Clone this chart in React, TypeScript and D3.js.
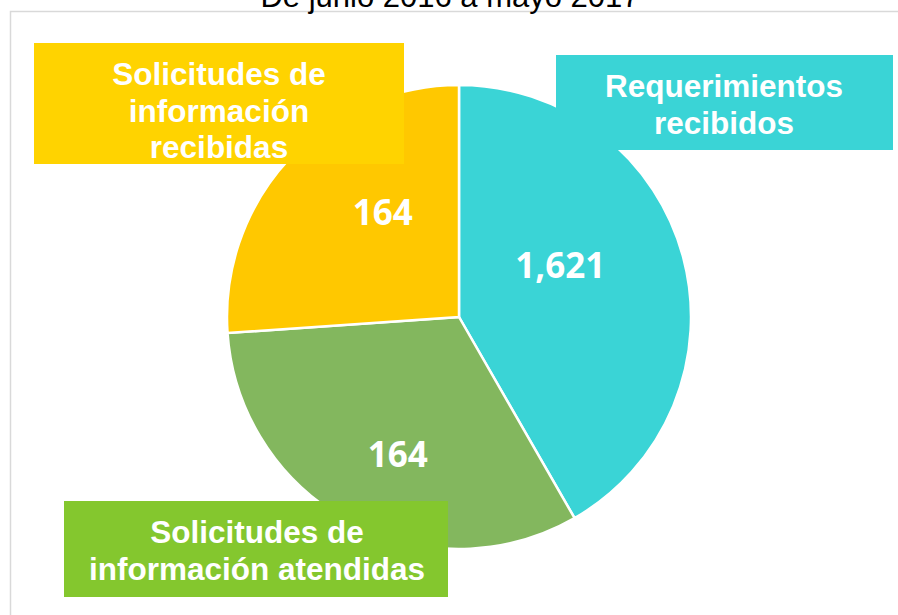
import React, { useRef, useEffect } from "react";
import * as d3 from "d3";

const title = "De junio 2016 a mayo 2017";
const categories = [
  "Requerimientos recibidos",
  "Solicitudes de información atendidas",
  "Solicitudes de información recibidas",
];
const valueLabels = ["1,621", "164", "164"];
// slice shares as drawn in the picture (percent of the circle)
const sliceShares = [41.7, 32.2, 26.1];
const sliceColors = ["#3AD4D6", "#83B75E", "#FFC800"];
const boxColors = ["#3AD4D6", "#84C72E", "#FFD300"];
const boxLines = [
  ["Requerimientos", "recibidos"],
  ["Solicitudes de", "información atendidas"],
  ["Solicitudes de", "información", "recibidas"],
];

const width = 898;
const height = 615;
const cx = 459;
const cy = 317;
const radius = 232;

// number label placement: [angle in degrees clockwise from top, distance / radius]
const labelPlace: [number, number][] = [
  [63, 0.49],
  [204, 0.65],
  [324, 0.56],
];

// annotation boxes: x, y, w, h, text centre x, first baseline
const boxes = [
  { x: 556, y: 55, w: 337, h: 95, tx: 724, ty: 97 },
  { x: 64, y: 501, w: 384, h: 96, tx: 257, ty: 543 },
  { x: 34, y: 43, w: 370, h: 121, tx: 219, ty: 85 },
];

const App: React.FC = () => {
  const svgRef = useRef<SVGSVGElement | null>(null);

  useEffect(() => {
    if (!svgRef.current) return;
    const svg = d3.select(svgRef.current);
    svg.selectAll("*").remove();

    // frame (only top and left edges are visible)
    svg
      .append("path")
      .attr("d", `M10.5,${height} L10.5,11.5 L${width},11.5`)
      .attr("fill", "none")
      .attr("stroke", "#D9D9D9")
      .attr("stroke-width", 1.5);

    svg
      .append("text")
      .attr("x", 450)
      .attr("y", 7)
      .attr("text-anchor", "middle")
      .attr("font-family", "'Liberation Sans', Arial, sans-serif")
      .attr("font-size", 31)
      .attr("fill", "#000")
      .text(title);

    const pie = d3
      .pie<number>()
      .sort(null)
      .value((d) => d);
    const arcs = pie(sliceShares);
    const arc = d3.arc<d3.PieArcDatum<number>>().innerRadius(0).outerRadius(radius);

    const g = svg.append("g").attr("transform", `translate(${cx},${cy})`);

    g.selectAll(".slice")
      .data(arcs)
      .join("path")
      .attr("class", "slice")
      .attr("d", arc)
      .attr("fill", (d, i) => sliceColors[i])
      .attr("stroke", "#fff")
      .attr("stroke-width", 2.5);

    g.selectAll(".value")
      .data(arcs)
      .join("text")
      .attr("class", "value")
      .attr("x", (d, i) => Math.sin((labelPlace[i][0] * Math.PI) / 180) * labelPlace[i][1] * radius)
      .attr("y", (d, i) => -Math.cos((labelPlace[i][0] * Math.PI) / 180) * labelPlace[i][1] * radius)
      .attr("dy", "0.36em")
      .attr("text-anchor", "middle")
      .attr("font-family", "'Open Sans', sans-serif")
      .attr("font-weight", "bold")
      .attr("font-size", 35)
      .attr("fill", "#fff")
      .text((d, i) => valueLabels[i]);

    // category boxes drawn over the pie
    const bg = svg
      .selectAll(".box")
      .data(categories)
      .join("g")
      .attr("class", "box");

    bg.append("rect")
      .attr("x", (d, i) => boxes[i].x)
      .attr("y", (d, i) => boxes[i].y)
      .attr("width", (d, i) => boxes[i].w)
      .attr("height", (d, i) => boxes[i].h)
      .attr("fill", (d, i) => boxColors[i]);

    bg.each(function (d, i) {
      d3.select(this)
        .selectAll("text")
        .data(boxLines[i])
        .join("text")
        .attr("x", boxes[i].tx)
        .attr("y", (l, j) => boxes[i].ty + j * 36.5)
        .attr("text-anchor", "middle")
        .attr("font-family", "'Liberation Sans', Arial, sans-serif")
        .attr("font-weight", "bold")
        .attr("font-size", 31.5)
        .attr("fill", "#fff")
        .text((l) => l);
    });
  }, []);

  return (
    <svg
      ref={svgRef}
      width={width}
      height={height}
      style={{ position: "absolute", left: 0, top: 0, background: "#fff" }}
    />
  );
};

export default App;
